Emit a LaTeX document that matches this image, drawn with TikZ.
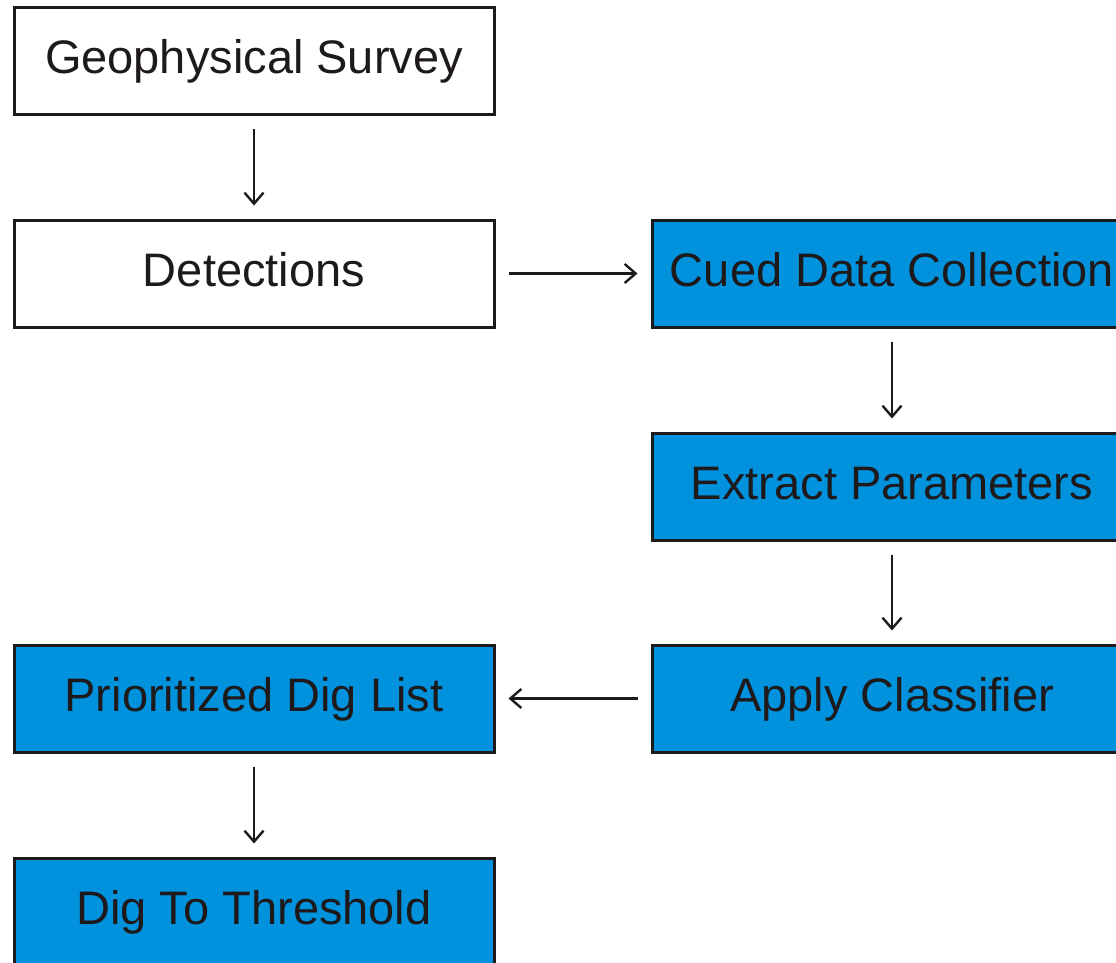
\documentclass[tikz,border=0pt]{standalone}
\usepackage{fontspec}
\setmainfont{Liberation Sans}
\usetikzlibrary{arrows.meta}
\definecolor{boxblue}{RGB}{0,146,221}
\definecolor{ink}{RGB}{30,26,27}
\tikzset{
  stepbox/.style={draw=ink, line width=3pt, minimum width=480pt, minimum height=107pt,
    inner sep=0pt, text height=33.6pt, text depth=8pt, text=ink,
    font=\fontsize{47}{56}\selectfont},
  plainbox/.style={stepbox, fill=white},
  bluebox/.style={stepbox, fill=boxblue},
  flow/.style={draw=ink, line width=2.4pt, -{Straight Barb[length=11pt,width=19pt]},
    shorten >=13pt, shorten <=13pt}
}
\begin{document}
\begin{tikzpicture}[x=1pt,y=-1pt]
\useasboundingbox (0,0) rectangle (1116,962);
\clip (0,0) rectangle (1116,962);
\node[plainbox] (geo) at (254,60.5) {Geophysical Survey};
\node[plainbox] (det) at (254,273.5) {Detections};
\node[bluebox] (cued) at (892,273.5) {Cued Data Collection};
\node[bluebox] (extr) at (892,486.5) {Extract Parameters};
\node[bluebox] (appl) at (892,698.5) {Apply Classifier};
\node[bluebox] (prio) at (254,698.5) {Prioritized Dig List};
\node[bluebox] (dig) at (254,911.5) {Dig To Threshold};
\draw[flow] (geo) -- (det);
\draw[flow] (det) -- (cued);
\draw[flow] (cued) -- (extr);
\draw[flow] (extr) -- (appl);
\draw[flow] (appl) -- (prio);
\draw[flow] (prio) -- (dig);
\end{tikzpicture}
\end{document}
